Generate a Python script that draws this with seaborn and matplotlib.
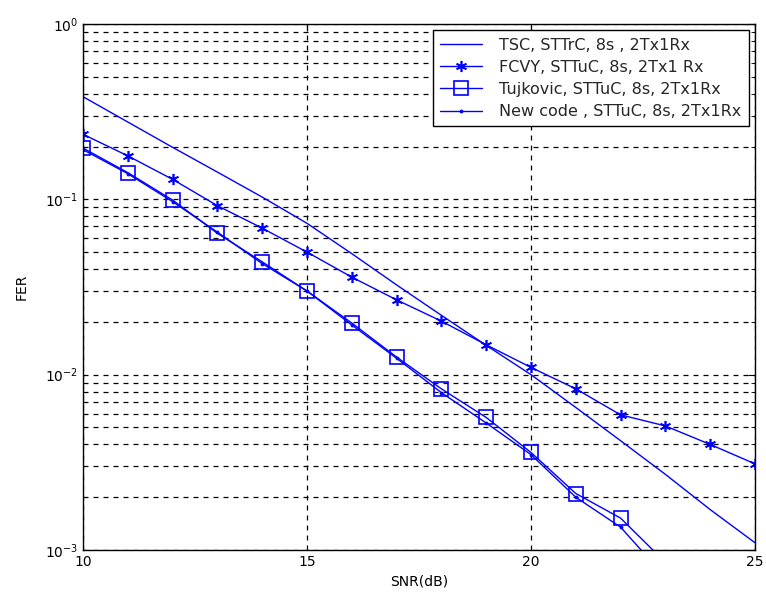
import numpy as np
import pandas as pd
import matplotlib
matplotlib.use("Agg")
import matplotlib.pyplot as plt
import seaborn as sns
from matplotlib.ticker import LogLocator, NullFormatter, FixedLocator

snr = [10, 11, 12, 13, 14, 15, 16, 17, 18, 19, 20, 21, 22, 23, 24, 25]
tsc = [0.385, 0.276, 0.198, 0.143, 0.103, 0.073, 0.049, 0.0325, 0.0218, 0.0147,
       0.0100, 0.0065, 0.0042, 0.0027, 0.0017, 0.0011]
fcvy = [0.235, 0.177, 0.130, 0.092, 0.0685, 0.050, 0.036, 0.0267, 0.0202, 0.0148,
        0.0110, 0.0083, 0.0059, 0.0051, 0.0040, 0.0031]
snr_tuj = [10, 11, 12, 13, 14, 15, 16, 17, 18, 19, 20, 21, 22, 23]
tujkovic = [0.196, 0.142, 0.099, 0.064, 0.044, 0.030, 0.0197, 0.0126, 0.0083, 0.0057,
            0.0036, 0.0021, 0.00152, 0.00085]
newcode = [0.192, 0.140, 0.097, 0.065, 0.043, 0.030, 0.0192, 0.0124, 0.0079, 0.0053,
           0.0035, 0.0020, 0.00135, 0.0007]

labels = ["TSC, STTrC, 8s , 2Tx1Rx", "FCVY, STTuC, 8s, 2Tx1 Rx",
          "Tujkovic, STTuC, 8s, 2Tx1Rx", "New code , STTuC, 8s, 2Tx1Rx"]

sns.set_style("white")
plt.rcParams['font.family'] = ['DejaVu Sans']

fig = plt.figure(figsize=(7.66, 6.10), dpi=100)
ax = fig.add_axes([83/766, 1-550/610, (755-83)/766, (550-24)/610])

blue = (0, 0, 1)
df_tsc = pd.DataFrame({"x": snr, "y": tsc})
df_fcvy = pd.DataFrame({"x": snr, "y": fcvy})
df_tuj = pd.DataFrame({"x": snr_tuj, "y": tujkovic})
df_new = pd.DataFrame({"x": snr_tuj, "y": newcode})

sns.lineplot(data=df_tsc, x="x", y="y", ax=ax, color=blue, lw=1.0, label=labels[0])
sns.lineplot(data=df_fcvy, x="x", y="y", ax=ax, color=blue, lw=1.0,
             marker=(6, 2, 0), markersize=8, markeredgewidth=1.2,
             markeredgecolor=blue, label=labels[1])
sns.lineplot(data=df_tuj, x="x", y="y", ax=ax, color=blue, lw=1.0,
             marker="s", markersize=9.5, markerfacecolor="none",
             markeredgecolor=blue, markeredgewidth=1.2, label=labels[2])
sns.lineplot(data=df_new, x="x", y="y", ax=ax, color=blue, lw=1.0,
             marker=".", markersize=4, markeredgecolor=blue, label=labels[3])

ax.set_yscale("log")
ax.set_xlim(10, 25)
ax.set_ylim(1e-3, 1)
ax.xaxis.set_major_locator(FixedLocator([10, 15, 20, 25]))
ax.yaxis.set_major_locator(LogLocator(base=10, numticks=10))
ax.yaxis.set_minor_locator(LogLocator(base=10, subs=np.arange(2, 10), numticks=20))
ax.yaxis.set_minor_formatter(NullFormatter())

ax.grid(True, which="major", axis="both", color="black", linestyle=(0, (4, 4)), lw=0.9)
ax.grid(True, which="minor", axis="y", color="black", linestyle=(0, (4, 4)), lw=0.9)
ax.set_axisbelow(True)

for s in ax.spines.values():
    s.set_color("black")
    s.set_linewidth(1.0)
ax.tick_params(which="both", direction="in", top=True, right=True, colors="black",
               labelsize=10, labelcolor="black")
ax.tick_params(which="major", length=5)
ax.tick_params(which="minor", length=3)

ax.set_xlabel("SNR(dB)", fontsize=10, color="black")
ax.set_ylabel("FER", fontsize=10, color="black", labelpad=12)

leg = ax.legend(loc="upper right", fontsize=11.5, frameon=True, fancybox=False,
                framealpha=1, edgecolor="black", handlelength=2.6, handletextpad=1.1,
                borderaxespad=0.4, labelspacing=0.45, borderpad=0.45)
leg.get_frame().set_linewidth(1.0)

fig.savefig("out.png", dpi=100, facecolor="white")
